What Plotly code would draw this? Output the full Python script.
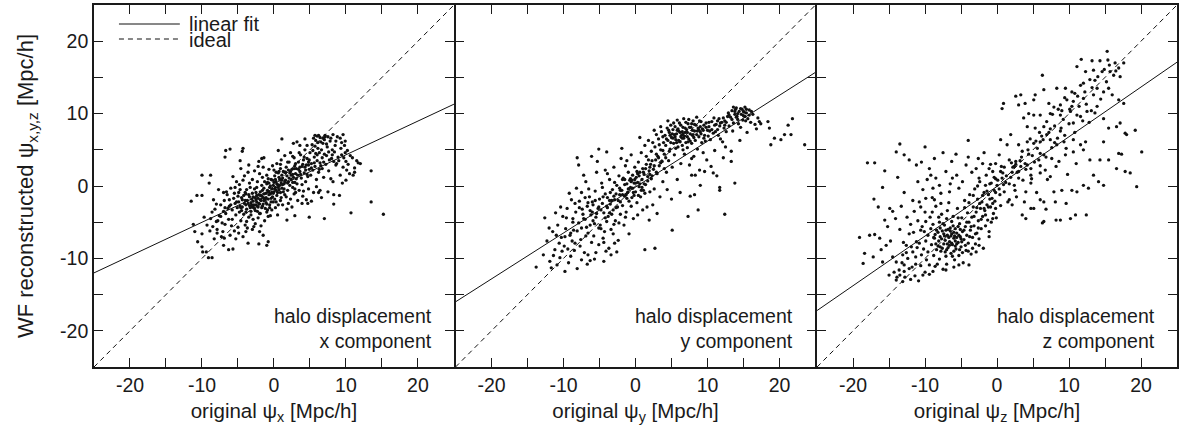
import plotly.graph_objects as go

# ---------------- data ----------------
panels = ["x", "y", "z"]
tick_vals = [-20, -15, -10, -5, 0, 5, 10, 15, 20]
tick_text = ["-20", "", "-10", "", "0", "", "10", "", "20"]
axis_range = [-25, 25]

# linear fit lines (slope, intercept) per panel
fit_slope = [0.466, 0.634, 0.686]
fit_intercept = [-0.35, -0.15, -0.05]
ideal_x = [-25, 25]

# halo displacement: (original, WF reconstructed) -- x component
halo_x = [
    (13.5, 2.1), (13.5, -2.2), (15.2, -3.9), (10.7, -3.7), (7.0, -4.5), (4.9, -4.3), (2.9, -4.1), (1.8, -4.7),
    (11.7, 3.2), (11.0, 1.5), (11.2, 1.9), (10.0, 0.8), (8.3, -1.2), (6.4, -0.6), (6.2, -0.9), (4.7, -2.4),
    (3.9, -2.4), (0.5, -4.0), (-0.8, -7.7), (-1.0, -8.2), (-2.1, -8.0), (-3.6, -7.9), (-5.7, -8.7), (-6.3, -8.8),
    (-7.0, -8.2), (-8.6, -9.9), (-9.1, -9.9), (-9.4, -9.1), (-9.9, -9.1), (-10.0, -8.4), (-10.6, -7.7), (-11.0, -6.3),
    (-11.2, -5.3), (-10.0, -6.6), (-8.3, -7.3), (-7.9, -6.5), (-11.5, -2.1), (-10.7, -1.3), (-10.0, -1.3), (-10.0, 1.5),
    (-8.8, 1.5), (-9.0, 0.4), (-6.8, 4.0), (-6.1, 5.1), (-6.7, 4.9), (-4.3, 5.2), (-4.4, 4.8), (-4.7, 3.5),
    (-3.5, 2.9), (-1.7, 3.8), (-1.4, 3.9), (-2.1, 3.4), (0.6, 4.9), (1.1, 6.5), (2.7, 5.9), (3.2, 6.1),
    (4.3, 6.5), (5.7, 7.0), (6.2, 7.0), (7.1, 7.0), (8.2, 7.1), (9.6, 7.1), (9.9, 6.2), (9.4, 6.0),
    (-8.8, -4.5), (-8.5, -5.6), (-8.2, -3.2), (-7.9, -6.0), (-7.6, -4.1), (-7.4, -2.6), (-7.2, -5.1), (-7.0, -3.5),
    (-8.4, -1.9), (-7.7, -0.5), (-8.9, -6.2), (-7.3, -7.0), (-7.1, -6.3), (-8.0, -2.5), (-7.8, -4.8),
    (-6.9, -2.0), (-6.7, -3.8), (-6.5, -1.2), (-6.3, -4.6), (-6.2, -2.8), (-6.0, -0.3), (-5.9, -5.5), (-5.8, -3.3),
    (-5.6, -1.7), (-5.5, -6.2), (-5.4, -2.4), (-5.3, -4.0), (-5.2, 0.6), (-5.1, -3.0), (-6.8, -5.3), (-6.6, -0.8),
    (-6.1, -6.8), (-5.7, 1.3), (-6.4, -3.1), (-5.0, -1.4), (-6.9, -7.2), (-5.3, -7.3),
    (-4.9, -2.2), (-4.8, -3.6), (-4.7, -0.5), (-4.6, -4.8), (-4.5, -1.6), (-4.4, -2.9), (-4.3, 0.8), (-4.2, -3.9),
    (-4.1, -2.4), (-4.0, -5.4), (-3.9, -1.1), (-3.8, -3.2), (-3.7, -2.0), (-3.6, 1.9), (-3.5, -4.3), (-3.4, -2.7),
    (-3.3, -0.2), (-3.2, -3.5), (-3.1, -1.8), (-3.0, -6.0), (-4.9, -6.5), (-4.3, -7.0), (-3.8, -4.9), (-4.6, 2.4),
    (-3.5, -1.2), (-3.2, -2.3), (-4.0, -0.9), (-3.9, -2.6), (-4.4, -1.9), (-3.3, -3.0), (-4.8, 0.2), (-3.7, -5.8),
    (-3.0, -2.9), (-4.1, 1.4),
    (-2.9, -1.5), (-2.8, -2.6), (-2.7, -0.4), (-2.6, -3.4), (-2.5, -1.9), (-2.4, -2.2), (-2.3, 0.6), (-2.2, -2.9),
    (-2.1, -1.2), (-2.0, -3.8), (-1.9, -0.8), (-1.8, -2.0), (-1.7, -1.4), (-1.6, 1.2), (-1.5, -2.5), (-1.4, -0.3),
    (-1.3, -1.7), (-1.2, -3.1), (-1.1, -1.0), (-1.0, 0.3), (-2.9, -4.6), (-2.6, -5.2), (-2.2, -4.4), (-1.8, -5.5),
    (-1.3, -4.8), (-2.7, 2.1), (-2.0, 1.7), (-1.5, 2.6), (-2.8, -3.0), (-2.4, -1.3), (-2.1, -2.4), (-1.9, -1.9),
    (-1.6, -2.8), (-1.2, -1.9), (-2.5, -0.9), (-1.4, -1.1), (-2.3, -3.5), (-1.1, -2.3), (-1.7, 0.1), (-2.6, -1.6),
    (-1.0, -3.6), (-2.0, -6.3), (-1.5, -6.8),
    (-0.9, -0.6), (-0.8, -1.8), (-0.7, 0.4), (-0.6, -2.6), (-0.5, -1.1), (-0.4, 0.9), (-0.3, -0.4), (-0.2, -1.5),
    (-0.1, 0.1), (0.0, -0.8), (0.1, 1.4), (0.2, -0.2), (0.3, 0.6), (0.4, -1.3), (0.5, 0.2), (0.6, 1.8),
    (0.7, -0.5), (0.8, 0.9), (0.9, -2.0), (1.0, 0.4), (-0.9, -3.3), (-0.5, -4.1), (0.2, -3.0), (0.6, -2.6),
    (-0.7, 2.3), (-0.2, 2.8), (0.4, 3.1), (0.9, 2.4), (-0.6, -0.2), (-0.3, -0.9), (0.1, -0.4), (0.5, -0.9),
    (0.8, 0.1), (-0.8, 1.0), (0.3, 1.9), (-0.1, -2.2), (0.7, 1.2), (0.0, 0.5), (-0.4, -1.7), (0.9, 0.8),
    (1.1, -0.3), (1.2, 1.1), (1.3, 2.0), (1.4, 0.3), (1.5, -1.2), (1.6, 0.8), (1.7, 2.6), (1.8, 1.4),
    (1.9, -0.6), (2.0, 0.6), (2.1, 3.3), (2.2, 1.8), (2.3, -1.8), (2.4, 0.9), (2.5, 2.3), (2.6, -0.2),
    (2.7, 1.2), (2.8, 3.9), (2.9, 0.5), (3.0, 1.7), (1.2, -2.6), (1.8, -3.2), (2.5, -2.9), (1.5, 4.2),
    (2.3, 4.6), (1.0, 3.6), (2.9, 2.8), (1.6, 1.9), (2.2, 0.1), (1.4, -0.4), (2.6, 1.6), (2.0, 2.2),
    (1.1, 0.8), (2.8, -1.1),
    (3.1, 2.4), (3.2, 0.3), (3.3, 1.5), (3.4, 3.3), (3.5, -0.6), (3.6, 2.0), (3.7, 4.3), (3.8, 1.1),
    (3.9, 2.7), (4.0, -1.4), (4.1, 3.6), (4.2, 1.8), (4.3, 5.0), (4.4, 0.6), (4.5, 2.9), (4.6, 3.8),
    (4.7, 1.3), (4.8, -0.4), (4.9, 2.3), (5.0, 4.6), (3.3, -2.0), (4.5, -1.9), (3.6, 5.6), (4.2, 4.0),
    (3.0, 3.1), (4.8, 3.3), (3.9, 0.2), (4.4, 2.2),
    (5.1, 1.5), (5.2, 3.1), (5.3, 5.7), (5.4, 2.2), (5.5, -0.9), (5.6, 4.0), (5.7, 2.7), (5.8, 6.3),
    (5.9, 0.9), (6.0, 3.5), (6.1, 5.2), (6.2, 1.9), (6.3, 4.6), (6.4, 6.7), (6.5, 2.8), (6.6, -1.6),
    (6.7, 3.9), (6.8, 5.9), (6.9, 1.2), (7.0, 4.4), (5.2, -2.1), (5.9, -0.1), (6.4, 3.2), (6.1, 6.0),
    (5.5, 6.6), (6.7, 2.4), (7.0, 6.4), (5.4, 4.9),
    (7.2, 3.0), (7.4, 5.4), (7.6, 2.1), (7.8, 6.2), (8.0, 3.8), (8.2, 0.6), (8.4, 4.7), (8.6, 2.9),
    (8.8, 6.8), (9.0, 3.5), (9.2, 1.5), (9.4, 4.3), (9.6, 2.6), (9.8, 5.6), (10.0, 3.4), (7.5, -0.8),
    (8.3, -2.5), (9.1, -1.3), (7.9, 1.0), (8.7, 3.1), (9.5, 0.4), (7.3, 4.2), (8.1, 5.0), (9.9, 4.6),
    (10.3, 3.0), (10.6, 4.2), (10.9, 3.9), (11.2, 2.5), (10.5, 1.7), (10.1, 2.2),
    (-5.5, -1.0), (-5.2, -2.2), (-4.9, -0.9), (-4.7, -2.8), (-4.5, -3.4), (-4.2, -1.3), (-4.0, -2.0), (-3.8, -0.5),
    (-3.6, -2.4), (-3.4, -1.5), (-3.2, -4.0), (-3.0, -1.0), (-2.9, -2.1), (-2.7, -3.1), (-2.5, -2.6), (-2.4, -0.2),
    (-2.2, -1.7), (-2.0, -2.5), (-1.9, -1.3), (-1.7, -3.0), (-1.6, -0.6), (-1.4, -2.0), (-1.3, 0.6), (-1.1, -1.6),
    (-1.0, -2.5), (-0.9, 0.5), (-0.7, -1.2), (-0.6, -3.0), (-0.5, 0.0), (-0.4, -2.2), (-0.2, 0.8), (-0.1, -1.0),
    (0.1, -1.8), (0.2, 0.9), (0.4, 0.3), (0.6, -0.2), (0.7, 2.0), (0.9, -0.9), (1.1, 1.5), (1.3, -0.8),
    (1.5, 0.6), (1.7, -1.5), (1.9, 0.4), (2.1, 1.1), (2.3, 2.0), (2.6, 0.5), (2.8, 2.4), (3.1, 1.0),
    (3.4, 2.3), (3.7, 1.6), (4.0, 3.0), (4.3, 2.6), (4.6, 1.6), (4.9, 3.6), (5.2, 2.5), (5.6, 3.2),
    (6.0, 4.3), (6.3, 2.3), (6.6, 5.0), (6.9, 3.3), (7.3, 5.8), (7.7, 3.6), (8.1, 4.3), (8.5, 5.6),
    (8.9, 4.0), (9.3, 5.2), (5.7, 5.5), (6.5, 6.1), (7.1, 6.8), (7.9, 6.6), (8.6, 6.2), (9.2, 6.6),
    (6.0, 6.9), (6.8, 6.6), (7.5, 6.8), (-6.2, -1.9), (-6.8, -3.0), (-7.4, -4.2), (-8.0, -4.9), (-8.6, -3.6),
    (-9.3, -5.4), (-9.7, -4.3), (-7.0, -0.9), (-5.8, -4.6), (-5.0, -5.7), (-3.9, -6.3), (-2.8, -5.6), (-0.8, -4.2),
    (-0.3, -3.3), (0.3, -2.2), (1.0, -1.6), (2.0, -2.4), (3.0, -0.9), (4.1, -0.7), (-3.0, 0.9), (-2.2, 2.7),
    (-1.0, 1.5), (0.0, 2.2), (0.9, 3.0), (1.9, 3.3), (2.6, 4.1), (3.5, 4.6), (4.6, 5.6), (-4.6, -3.0),
    (-3.9, -3.6), (-3.1, -2.6), (-2.3, -2.8), (-1.5, -1.6), (-0.7, -0.8), (0.3, -0.6), (1.2, 0.2), (2.4, 1.5),
    (3.6, 2.6), (4.8, 2.9), (5.8, 4.5), (-6.0, -2.6), (-5.4, -0.2), (-3.4, 0.4), (-1.9, -3.8), (1.5, 1.9),
    (2.9, -0.4), (7.6, 4.7), (8.3, 3.4), (9.7, 3.9), (10.2, 4.9), (11.5, 3.5), (12.0, 3.1),
]

# y component
halo_y = [
    (21.8, 9.3), (21.2, 8.4), (20.7, 7.1), (20.2, 6.4), (19.3, 6.6), (18.8, 5.7), (18.6, 8.0), (23.5, 5.7),
    (17.2, 8.9), (18.4, 8.9), (21.6, 7.1), (-12.6, -4.4), (-13.8, -11.2), (-8.1, 3.9), (-7.9, 2.9), (-6.1, 4.1),
    (-5.1, 5.1), (-4.0, 4.7), (12.4, -3.9), (8.7, -3.3), (7.3, -4.2), (5.1, -6.1), (2.7, -8.6), (1.3, -8.8),
    (13.8, 0.4), (11.7, -0.6), (11.7, -0.2), (8.2, -1.2), (7.6, -1.4), (13.3, 3.4), (9.6, 2.0), (10.8, 1.8),
    (7.8, 1.5),
    (-12.8, -9.5), (-12.3, -7.6), (-11.9, -10.4), (-11.5, -6.3), (-11.2, -8.8), (-10.8, -5.4), (-10.5, -9.9),
    (-10.3, -7.1), (-10.1, -4.2), (-11.7, -11.3), (-12.0, -5.8), (-10.9, -10.9), (-10.4, -2.9), (-11.1, -3.7),
    (-9.9, -8.3), (-9.7, -5.9), (-9.5, -3.1), (-9.3, -10.6), (-9.1, -6.8), (-8.9, -1.9), (-8.7, -4.5), (-8.5, -8.9),
    (-8.3, -3.6), (-8.1, -11.4), (-9.8, -11.8), (-9.2, -1.0), (-8.6, -6.1), (-8.2, -0.3), (-9.6, -4.4), (-8.8, -7.6),
    (-8.4, -2.4), (-9.0, -9.7),
    (-7.9, -5.1), (-7.8, -2.1), (-7.6, -7.4), (-7.5, -0.9), (-7.3, -3.9), (-7.1, -9.2), (-7.0, -4.6), (-6.9, 0.6),
    (-6.7, -2.8), (-6.6, -6.5), (-6.4, -1.5), (-6.3, -10.3), (-6.2, -4.0), (-6.0, -2.2), (-7.7, -8.3), (-7.2, 1.5),
    (-6.8, -5.7), (-6.5, -0.4), (-6.1, -7.8), (-7.4, -3.2), (-6.3, -3.4), (-7.0, -1.6), (-6.6, -9.5),
    (-5.9, -2.6), (-5.8, -6.9), (-5.6, -0.7), (-5.5, -4.3), (-5.4, 1.9), (-5.2, -3.1), (-5.1, -8.1), (-5.0, -1.8),
    (-4.9, -5.4), (-4.7, 0.4), (-4.6, -2.4), (-4.5, -7.2), (-4.4, -3.7), (-4.2, -1.1), (-4.1, -9.0), (-4.0, -4.9),
    (-5.7, -10.1), (-5.3, 3.4), (-4.8, -3.3), (-4.3, -6.3), (-5.6, -2.0), (-4.2, 2.2), (-5.9, -4.8), (-4.6, -0.2),
    (-4.0, -2.8), (-5.1, -5.8), (-4.4, -10.4),
    (-3.9, -1.6), (-3.8, -4.2), (-3.6, 0.9), (-3.5, -2.5), (-3.4, -6.0), (-3.2, -0.5), (-3.1, -3.3), (-3.0, 2.6),
    (-2.9, -1.9), (-2.8, -4.8), (-2.6, 0.1), (-2.5, -2.9), (-2.4, -7.5), (-2.3, 1.4), (-2.2, -1.2), (-2.1, -3.9),
    (-2.0, 3.8), (-3.7, -8.6), (-3.3, -2.0), (-2.7, -1.1), (-3.0, -5.3), (-2.2, -0.3), (-3.9, 1.7), (-2.6, -9.1),
    (-3.5, -0.9), (-2.9, 0.5), (-2.1, -2.2), (-3.6, -3.7),
    (-1.9, -0.6), (-1.8, -2.7), (-1.7, 1.1), (-1.5, -1.4), (-1.4, 2.8), (-1.3, -3.6), (-1.2, 0.3), (-1.1, -0.9),
    (-1.0, 1.9), (-0.9, -2.1), (-0.8, 0.8), (-0.7, -0.2), (-0.6, 4.3), (-0.5, -1.6), (-0.4, 1.5), (-0.3, -4.5),
    (-0.2, 0.4), (-0.1, 2.6), (0.0, -0.8), (-1.6, -5.4), (-0.9, -6.6), (-1.9, 5.2), (-1.2, 3.5), (-0.4, -0.3),
    (-1.5, 0.2), (-0.7, 1.0), (-0.2, -1.3), (-1.0, -0.4), (-0.6, 0.6), (-1.8, 0.9), (-1.3, -1.2), (-0.1, 0.9),
    (0.1, 1.2), (0.2, -2.3), (0.3, 0.5), (0.4, 3.3), (0.5, -0.1), (0.6, 1.9), (0.7, -1.5), (0.8, 4.6),
    (0.9, 0.9), (1.0, 2.4), (1.1, -0.6), (1.2, 1.6), (1.3, 5.6), (1.4, 0.2), (1.5, 3.0), (1.6, -2.9),
    (1.7, 1.3), (1.8, 6.3), (1.9, 2.1), (2.0, -0.8), (0.3, -4.0), (1.0, -3.3), (0.6, 6.7), (1.5, 4.1),
    (0.2, 2.0), (1.2, 0.3), (1.8, 3.6), (0.8, -0.6), (0.5, 1.4), (1.9, -4.7),
    (2.1, 3.0), (2.2, 4.8), (2.3, 1.4), (2.4, 6.0), (2.5, 2.3), (2.6, -0.4), (2.7, 5.4), (2.8, 3.6),
    (2.9, 7.1), (3.0, 1.7), (3.1, 4.1), (3.2, 6.5), (3.3, 2.8), (3.4, -1.5), (3.5, 5.0), (3.6, 7.5),
    (3.7, 3.4), (3.8, 0.6), (3.9, 6.0), (4.0, 4.4), (2.4, -2.6), (3.0, -3.8), (2.6, 7.7), (3.5, 8.2),
    (2.2, 1.0), (3.3, 5.7), (4.0, 2.4), (2.9, 4.4), (3.8, 6.8), (2.0, 2.6),
    (4.1, 7.0), (4.2, 5.6), (4.3, 1.9), (4.4, 8.0), (4.5, 6.3), (4.6, 3.5), (4.7, 7.4), (4.8, 5.1),
    (4.9, 8.4), (5.0, 6.7), (5.1, 2.6), (5.2, 7.8), (5.3, 5.9), (5.4, 4.3), (5.5, 8.2), (5.6, 6.4),
    (5.7, 7.2), (5.8, 0.9), (5.9, 5.4), (6.0, 7.6), (6.1, 8.7), (6.2, 6.1), (6.3, 3.1), (6.4, 7.0),
    (6.5, 5.6), (6.6, 8.1), (6.7, 6.6), (6.8, 4.4), (6.9, 7.4), (7.0, 6.0), (4.4, -0.5), (5.0, -1.8),
    (6.2, -0.9), (4.5, 9.0), (5.8, 9.1), (6.7, 9.3), (4.9, 6.0), (5.4, 7.1), (6.0, 6.3), (6.5, 7.5),
    (4.7, 4.8), (5.6, 5.2), (6.3, 6.8), (5.2, 6.6), (6.8, 6.9), (4.3, 6.5), (5.9, 7.9), (6.6, 5.0),
    (7.1, 7.8), (7.2, 5.3), (7.3, 8.6), (7.4, 6.5), (7.5, 2.9), (7.6, 7.2), (7.7, 8.1), (7.8, 5.9),
    (7.9, 7.0), (8.0, 9.0), (8.1, 4.1), (8.2, 7.6), (8.3, 6.3), (8.4, 8.4), (8.5, 7.1), (8.6, 5.1),
    (8.7, 8.0), (8.8, 6.8), (8.9, 2.2), (9.0, 7.5), (9.1, 8.9), (9.2, 6.0), (9.3, 7.9), (9.4, 4.6),
    (9.5, 8.4), (9.6, 7.0), (9.7, 6.2), (9.8, 8.7), (9.9, 3.6), (10.0, 7.7), (7.4, 9.2), (8.5, 9.5),
    (7.8, 3.8), (8.3, 1.5), (9.0, 0.1), (7.2, 6.8), (8.0, 7.1), (8.8, 7.8), (9.5, 6.6), (7.6, 6.2),
    (10.2, 8.2), (10.4, 6.4), (10.6, 8.9), (10.8, 7.3), (11.0, 4.9), (11.2, 8.5), (11.4, 7.8), (11.6, 9.3),
    (11.8, 6.5), (12.0, 8.8), (12.2, 3.9), (12.4, 9.0), (12.6, 7.5), (12.8, 9.6), (13.0, 8.3), (10.5, 2.7),
    (11.3, 1.4), (12.5, 5.4), (10.9, 9.4), (11.7, 8.3), (12.3, 8.0), (12.9, 10.1), (10.3, 7.6), (11.5, 7.0),
    (12.1, 6.1),
    (13.2, 9.5), (13.4, 10.4), (13.6, 8.7), (13.8, 9.9), (14.0, 10.8), (14.2, 9.2), (14.4, 10.3), (14.6, 8.1),
    (14.8, 10.6), (15.0, 9.7), (15.2, 10.9), (15.4, 10.1), (15.6, 9.3), (15.8, 10.5), (16.0, 8.8), (16.3, 9.9),
    (16.6, 8.5), (17.0, 9.4), (13.5, 7.6), (14.5, 6.3), (15.5, 7.4), (14.1, 9.6), (15.1, 10.2), (14.7, 9.9),
    (13.9, 10.6), (15.3, 9.0), (16.1, 10.3), (14.3, 8.6), (13.3, 4.8), (16.8, 7.9), (17.4, 8.6),
    (4.6, 7.7), (5.1, 7.2), (5.5, 6.8), (5.8, 7.7), (6.2, 7.4), (6.5, 6.6), (6.9, 8.0), (7.2, 7.4),
    (7.5, 8.1), (7.9, 7.7), (8.2, 8.5), (8.6, 7.6), (9.0, 8.2), (9.4, 7.7), (9.8, 8.1), (10.2, 8.8),
    (10.6, 7.8), (11.0, 8.4), (11.4, 9.0), (11.8, 8.7), (12.2, 9.4), (12.6, 8.8), (13.0, 9.8), (13.4, 9.2),
    (13.8, 10.3), (14.2, 10.0), (14.6, 10.7), (15.0, 10.3), (15.4, 10.6), (15.8, 9.8), (14.0, 9.5), (14.9, 9.1),
    (13.6, 10.9), (15.2, 9.6), (5.3, 8.7), (6.3, 8.4), (7.0, 8.8), (7.8, 8.6), (8.9, 9.0), (4.8, 7.0),
    (5.7, 6.0), (6.6, 7.2), (7.3, 6.1), (8.1, 6.7), (9.1, 7.2), (10.1, 6.9), (11.1, 7.5), (12.4, 8.4),
    (-0.5, 0.8), (-0.3, -0.9), (0.0, 0.4), (0.3, 1.7), (0.6, 0.3), (0.9, -0.2), (1.1, 1.9), (1.4, 2.4),
    (1.7, 0.7), (2.0, 1.6), (2.3, 3.5), (2.6, 2.8), (2.9, 1.9), (3.2, 3.9), (3.5, 3.2), (3.8, 4.9),
    (4.2, 3.9), (-0.9, -0.4), (-1.2, -1.7), (-1.5, 0.9), (-1.8, -1.2), (-2.1, -0.6), (-2.4, -2.0), (-2.7, -3.0),
    (-3.0, -1.4), (-3.3, -3.9), (-3.6, -2.0), (-3.9, -3.0), (-4.2, -4.4), (-4.5, -1.5), (-4.8, -5.9), (-5.1, -2.9),
    (-5.4, -3.8), (-5.7, -5.2), (-6.0, -3.6), (-6.3, -5.4), (-6.6, -2.3), (-6.9, -6.9), (-7.2, -4.5), (-7.5, -5.8),
    (-7.8, -3.0), (-8.1, -6.2), (-8.4, -7.9), (-8.7, -5.0), (-9.0, -6.5), (-9.4, -8.7), (-9.8, -7.0), (-10.2, -9.0),
    (-10.6, -7.9), (-11.0, -6.8), (-11.4, -9.6), (-3.1, -6.6), (-2.3, -5.1), (-1.4, -4.3), (-0.6, -2.8), (0.4, -1.3),
    (1.3, -1.0), (-4.4, -7.8), (-5.5, -9.2), (-6.7, -10.8), (-7.5, -10.2), (-3.4, -9.5), (-2.9, -7.9),
]

# z component
halo_z = [
    (-4.0, 6.3), (-10.0, 5.4), (-13.5, 5.8), (-14.0, 4.7), (-12.9, 4.3), (-12.2, 3.6), (-18.0, 3.2), (-17.0, 3.2),
    (-15.6, 2.1), (-5.7, 4.4), (-6.3, 3.4), (-7.1, 2.0), (-9.4, 2.4), (-9.2, 1.5), (-15.9, -0.2), (-17.1, -1.8),
    (-16.5, -2.9), (-14.9, -3.1), (-14.5, -3.5), (-15.6, -4.7), (-15.2, -5.6), (-17.7, -6.8), (-19.1, -7.1),
    (-17.0, -6.7), (-18.4, -9.3), (-18.6, -10.7), (-17.2, -9.8), (-16.1, -8.8), (-15.9, -10.5), (-15.0, -12.3),
    (-14.0, -13.0), (-13.5, -12.3), (-12.9, -11.8), (-12.2, -11.4), (-13.1, -9.5), (-11.7, -9.1), (-12.6, -8.2),
    (-11.2, -7.7), (-10.6, -6.1), (-9.9, -4.9), (-11.5, -3.5), (-10.8, -2.2), (-9.9, -1.7), (-8.9, -0.3),
    (-8.0, 0.1), (-8.5, 1.1), (-6.6, -0.8), (-6.2, 1.1), (-5.3, -0.3), (-4.3, 2.9), (-2.9, 2.4), (-2.0, 3.1),
    (-1.1, 2.4), (-0.2, 3.1), (-2.5, 1.1), (-1.6, 0.1), (-9.4, -10.9), (-10.3, -12.3), (-8.9, -11.8),
    (-7.1, -11.6), (-5.3, -10.9), (-3.9, -10.9), (-2.9, -9.1), (-2.5, -8.2), (-1.1, -6.3), (-0.6, -4.5),
    (-0.2, -3.1),
    (15.3, 18.6), (16.4, 17.0), (16.9, 16.3), (16.2, 15.3), (17.1, 15.1), (17.6, 17.0), (11.7, 17.5), (13.2, 17.3),
    (14.3, 17.3), (11.1, 16.5), (12.3, 15.8), (13.4, 16.0), (14.6, 15.8), (15.7, 15.8), (6.3, 15.3), (9.5, 13.5),
    (10.4, 13.0), (11.6, 13.9), (12.9, 14.7), (13.9, 13.5), (15.5, 13.5), (6.5, 13.3), (8.3, 13.5), (5.3, 12.6),
    (5.1, 11.9), (3.3, 12.6), (2.6, 12.4), (0.9, 11.4), (0.7, 10.7), (3.0, 11.2), (3.9, 11.4), (7.2, 11.4),
    (8.8, 11.2), (9.7, 11.9), (10.6, 11.7), (12.0, 12.1), (13.4, 12.6), (14.8, 13.0), (16.9, 11.9), (17.6, 11.4),
    (13.9, 11.0), (12.5, 10.3), (11.1, 9.8), (10.2, 10.3), (8.8, 9.8), (7.4, 10.0), (6.0, 9.8), (5.1, 9.8),
    (4.4, 10.0), (3.7, 9.4), (4.2, 8.2), (5.3, 8.0), (6.5, 8.2), (6.9, 7.1), (7.4, 6.4), (6.0, 6.1),
    (5.1, 5.9), (4.2, 6.1), (3.0, 5.7), (1.4, 5.7), (1.9, 7.1), (0.5, 6.4), (0.3, 4.3), (1.7, 3.6),
    (2.6, 3.4), (3.3, 2.7), (4.2, 2.9), (4.7, 2.4), (6.0, 4.5), (6.5, 4.3), (5.8, 3.6), (7.6, 3.8),
    (8.6, 3.4), (9.5, 4.3), (10.6, 4.7), (11.6, 5.7), (12.0, 5.0), (12.3, 6.1), (10.6, 6.4), (9.3, 6.1),
    (8.3, 5.7), (12.9, 3.6), (14.3, 3.6), (14.8, 6.1), (15.5, 8.0), (16.6, 8.2), (17.1, 8.7), (17.8, 7.3),
    (18.0, 7.1), (19.2, 7.7), (20.1, 4.7), (19.4, -0.1), (18.5, 1.8), (17.8, 2.0), (16.9, 4.5), (17.3, 4.4),
    (16.6, 2.4), (15.5, 3.6), (14.8, 0.1), (14.1, 0.6), (13.4, 1.5), (12.7, -0.3), (12.0, 0.1), (11.1, -0.8),
    (10.4, -0.6), (9.0, -0.6), (8.1, -2.2), (6.5, -2.2), (6.0, -1.9), (5.1, -3.1), (4.7, -3.1), (6.5, -4.9),
    (8.8, -4.7), (10.2, -4.5), (10.9, -4.0), (4.0, -4.5), (3.5, -4.0), (2.1, -2.6), (1.7, -1.9), (1.0, -0.8),
    (2.4, 0.1), (3.0, 1.1), (4.7, 1.5), (6.0, 1.8), (6.7, 2.2), (7.4, 1.3), (7.9, -0.8), (4.7, 0.4),
    (4.0, -0.8), (2.4, 2.7), (0.7, 1.1), (0.5, 2.0), (12.4, -4.0), (8.2, -4.7), (6.3, -5.1),
    (-11.6, -6.4), (-11.3, -9.8), (-11.0, -4.8), (-10.8, -7.9), (-10.6, -11.0), (-10.4, -5.6), (-10.2, -8.7),
    (-10.0, -3.6), (-9.8, -10.2), (-9.6, -6.8), (-9.4, -12.2), (-9.3, -4.3), (-9.1, -8.1), (-8.9, -5.3),
    (-8.8, -9.6), (-8.7, -7.2), (-8.5, -2.8), (-8.4, -6.1), (-8.3, -10.8), (-8.2, -8.3), (-8.0, -5.0),
    (-7.9, -7.0), (-7.8, -9.0), (-7.7, -3.9), (-7.6, -6.2), (-7.5, -11.5), (-7.4, -8.0), (-7.3, -5.4),
    (-7.2, -7.5), (-7.1, -9.7), (-7.0, -4.5), (-6.9, -6.8), (-6.8, -8.5), (-6.7, -2.3), (-6.6, -7.7),
    (-6.5, -5.8), (-6.4, -9.3), (-6.3, -6.6), (-6.2, -8.1), (-6.1, -4.2), (-6.0, -7.2), (-5.9, -10.2),
    (-5.8, -5.9), (-5.7, -8.7), (-5.6, -6.5), (-5.5, -3.1), (-5.4, -7.8), (-5.3, -9.6), (-5.2, -5.2),
    (-5.1, -7.0), (-5.0, -8.4), (-4.9, -4.4), (-4.8, -6.3), (-4.7, -10.6), (-4.6, -7.4), (-4.5, -2.0),
    (-4.4, -5.6), (-4.3, -8.9), (-4.2, -6.8), (-4.1, -3.7), (-4.0, -7.9), (-3.9, -5.0), (-3.8, -1.2),
    (-3.7, -6.1), (-3.6, -9.4), (-3.5, -4.3), (-3.4, -7.1), (-3.3, -2.9), (-3.2, -5.5), (-3.1, -0.4),
    (-3.0, -8.0), (-2.9, -3.6), (-2.8, -6.5), (-2.7, -1.8), (-2.6, -4.8), (-2.5, -7.3), (-2.4, 0.6),
    (-2.3, -3.1), (-2.2, -5.9), (-2.1, -2.2), (-2.0, -4.2), (-1.9, -8.6), (-1.8, -0.9), (-1.7, -3.4),
    (-1.6, -5.5), (-1.5, 1.5), (-1.4, -2.6), (-1.3, -4.7), (-1.2, -1.2), (-1.1, -7.0), (-1.0, 0.3),
    (-0.9, -2.9), (-0.8, -5.0), (-0.7, -1.7), (-0.6, 2.0), (-0.5, -3.8), (-0.4, -0.6), (-0.3, -2.1),
    (-0.2, 1.0), (-0.1, -4.4), (0.0, 0.1),
    (-8.6, -6.7), (-8.1, -7.6), (-7.6, -8.6), (-7.1, -6.1), (-6.7, -7.1), (-6.3, -7.9), (-5.9, -6.9),
    (-5.6, -8.0), (-5.3, -6.8), (-7.4, -6.6), (-6.9, -8.0), (-6.1, -5.5), (-7.9, -5.8), (-5.8, -7.6),
    (-6.5, -6.2), (-7.2, -9.1), (-5.1, -6.0), (-8.4, -8.8), (-6.0, -9.0), (-4.9, -7.7),
    (-13.2, -10.6), (-12.8, -12.6), (-12.4, -10.0), (-12.0, -12.9), (-11.8, -11.2), (-13.6, -11.6),
    (-14.3, -11.9), (-13.9, -12.6), (-11.4, -12.4), (-10.9, -13.1), (-12.6, -9.2), (-13.0, -7.8),
    (-11.9, -8.4), (-14.5, -9.8), (-14.8, -7.6), (-15.4, -8.2), (-16.3, -7.2), (-13.5, -6.0), (-12.2, -6.6),
    (-14.1, -4.5), (-13.3, -2.8), (-12.5, -4.3), (-11.7, -2.0), (-12.9, -0.9), (-11.0, 0.6), (-10.3, -0.5),
    (-9.7, 0.9), (-13.8, 1.2), (-11.2, 2.9), (-10.5, 3.3), (-8.7, 3.8), (-7.5, 4.6), (-9.0, -1.6),
    (-7.8, -1.0), (-6.5, 0.3), (-5.6, 1.5), (-4.8, 0.6), (-4.0, 4.0), (-3.5, 1.9), (-2.6, 3.8),
    (-1.8, 4.6), (-0.9, 3.0),
    (0.4, -1.2), (0.8, 1.8), (1.2, 0.5), (1.5, -2.2), (1.9, 1.2), (2.2, 2.6), (2.5, -0.6), (2.8, 1.9),
    (3.2, 3.5), (3.6, 0.8), (4.0, 2.3), (4.4, 4.4), (4.8, 1.0), (5.2, 3.3), (5.6, 5.2), (6.0, 2.8),
    (6.4, 6.4), (6.8, 4.0), (7.2, 7.4), (7.6, 5.3), (8.0, 8.3), (8.4, 6.6), (8.8, 7.6), (9.2, 9.2),
    (9.6, 5.2), (10.0, 8.6), (10.4, 11.0), (10.8, 7.4), (11.2, 12.4), (11.6, 9.6), (12.0, 14.2), (12.4, 11.3),
    (12.8, 8.8), (13.2, 13.6), (13.6, 10.1), (14.0, 15.1), (14.4, 12.0), (14.8, 9.3), (15.2, 14.4),
    (15.6, 16.7), (16.0, 12.6), (5.9, 7.4), (6.9, 8.9), (7.7, 9.9), (8.5, 10.6), (9.4, 12.2), (3.5, 4.8),
    (4.6, 6.5), (2.0, 3.2), (1.0, 2.6), (0.5, -2.7), (7.0, 0.9), (8.2, 2.7), (9.8, 1.6), (11.0, 3.1),
    (5.5, -0.9), (3.8, -2.2), (6.2, 6.9), (7.4, 7.9), (8.9, 8.0), (10.1, 10.6), (11.4, 11.0),
    (-8.8, -7.1), (-8.5, -8.0), (-8.2, -6.4), (-7.9, -8.4), (-7.7, -7.3), (-7.5, -5.2), (-7.3, -6.9), (-7.0, -8.8),
    (-6.8, -6.0), (-6.6, -8.2), (-6.4, -6.9), (-6.2, -9.7), (-6.0, -6.4), (-5.8, -8.3), (-5.6, -7.1), (-5.4, -5.6),
    (-5.2, -8.8), (-5.0, -7.3), (-4.8, -9.2), (-4.6, -6.1), (-4.4, -8.2), (-4.2, -5.0), (-4.0, -9.0), (-3.8, -7.0),
    (-3.6, -5.6), (-3.4, -8.6), (-3.2, -4.2), (-3.0, -6.6), (-2.8, -3.0), (-2.6, -5.8), (-2.4, -2.4), (-2.2, -4.6),
    (-2.0, -1.3), (-1.8, -3.1), (-1.6, -4.0), (-1.4, -0.7), (-1.2, -2.9), (-1.0, -1.8), (-0.8, 0.4), (-0.6, -2.4),
    (-0.4, 1.2), (-0.2, -0.9), (0.1, 0.8), (0.3, -0.4), (0.6, 2.7), (0.9, 0.2), (1.3, 1.4), (1.7, 0.3),
    (2.1, 1.9), (2.6, 3.0), (3.0, 2.0), (3.4, 4.0), (3.9, 3.1), (4.3, 5.0), (4.9, 4.2), (5.4, 6.2),
    (-9.6, -9.1), (-9.2, -5.9), (-9.9, -7.6), (-10.5, -9.5), (-10.1, -6.3), (-11.1, -8.5), (-8.0, -10.1),
    (-7.0, -10.8), (-6.0, -11.2), (-8.6, -11.1), (-9.0, -3.6), (-8.1, -4.3), (-6.9, -3.4), (-6.3, -4.9),
    (-5.4, -4.4), (-4.5, -3.0), (-3.9, -2.3), (-3.3, -1.3), (-2.7, 0.0), (-7.8, -2.4), (-8.7, -1.9),
    (-10.6, -2.9), (-12.0, -5.3), (-14.0, -10.5), (-12.9, -10.9), (-11.3, -10.8), (-13.1, -13.2), (-10.0, -11.9),
    (7.9, 10.9), (9.0, 10.4), (10.8, 12.8), (12.2, 13.0), (13.6, 14.6), (14.9, 16.1), (16.5, 15.9), (15.4, 17.4),
    (8.0, 6.0), (9.4, 7.0), (10.6, 8.7), (11.9, 9.0), (13.1, 10.4), (2.7, -1.5), (6.8, -3.2), (9.6, -2.4),
]

halo_data = [halo_x, halo_y, halo_z]

# ---------------- figure ----------------
FONT = "Liberation Sans, Arial, Helvetica, sans-serif"
FS = 19.5
FS_XTITLE = 20.5
FS_YTITLE = 22
FS_LEGEND = 20
INK = "#1a1a1a"
LW = 1.6  # axis line width (px)

fig = go.Figure()

for i, comp in enumerate(panels):
    xa = "x" if i == 0 else f"x{i+1}"
    ya = "y" if i == 0 else f"y{i+1}"
    pts = halo_data[i]
    fig.add_trace(go.Scatter(
        x=[p[0] for p in pts], y=[p[1] for p in pts], mode="markers",
        marker=dict(size=3.3, color="#111111", line=dict(width=0)),
        xaxis=xa, yaxis=ya, showlegend=False, name="halos",
    ))
    fy = [fit_slope[i] * v + fit_intercept[i] for v in ideal_x]
    fig.add_trace(go.Scatter(
        x=ideal_x, y=fy, mode="lines", line=dict(color="#111111", width=1),
        xaxis=xa, yaxis=ya, showlegend=False, name="linear fit",
    ))
    fig.add_trace(go.Scatter(
        x=ideal_x, y=ideal_x, mode="lines", line=dict(color="#111111", width=1, dash="5px,4px"),
        xaxis=xa, yaxis=ya, showlegend=False, name="ideal",
    ))

common_axis = dict(
    range=axis_range, showgrid=False, zeroline=False, showline=True, linecolor=INK,
    linewidth=LW, mirror="ticks", ticks="inside", ticklen=9, tickwidth=1.3, tickcolor=INK,
    tickvals=tick_vals, ticktext=tick_text, tickfont=dict(family=FONT, size=FS, color=INK),
)

W, H = 1181, 432
ML, MR, MT, MB = 94, 2, 5, 65
PW = W - ML - MR
PH = H - MT - MB
gap = LW / PW  # so neighbouring frame lines fall on the same pixels
third = (1 - 2 * gap) / 3
domains = [[0, third], [third + gap, 2 * third + gap], [2 * third + 2 * gap, 1]]

layout = dict(
    width=W, height=H,
    margin=dict(l=ML, r=MR, t=MT, b=MB),
    plot_bgcolor="white", paper_bgcolor="white",
    font=dict(family=FONT, size=FS, color=INK),
    showlegend=False,
)
for i, comp in enumerate(panels):
    xk = "xaxis" if i == 0 else f"xaxis{i+1}"
    yk = "yaxis" if i == 0 else f"yaxis{i+1}"
    xa_ref = "x" if i == 0 else f"x{i+1}"
    ya_ref = "y" if i == 0 else f"y{i+1}"
    layout[xk] = dict(common_axis, domain=domains[i], anchor=ya_ref,
                      title=dict(text=f"original ψ<sub>{comp}</sub> [Mpc/h]", standoff=8,
                                 font=dict(family=FONT, size=FS_XTITLE, color=INK)))
    ydict = dict(common_axis, domain=[0, 1], anchor=xa_ref)
    if i == 0:
        ydict["title"] = dict(text="WF reconstructed ψ<sub>x,y,z</sub> [Mpc/h]", standoff=20,
                              font=dict(family=FONT, size=FS_YTITLE, color=INK))
    else:
        ydict["showticklabels"] = False
    layout[yk] = ydict

fig.update_layout(**layout)

# component labels
for i, comp in enumerate(panels):
    xa_ref = "x" if i == 0 else f"x{i+1}"
    ya_ref = "y" if i == 0 else f"y{i+1}"
    fig.add_annotation(
        text=f"halo displacement<br>{comp} component", xref=f"{xa_ref} domain", yref=ya_ref,
        x=1, y=-19.75, xanchor="right", yanchor="middle", xshift=-20, align="right",
        showarrow=False, font=dict(family=FONT, size=FS, color=INK),
    )

# legend (top-left of the first panel)
legend_items = [("linear fit", "solid"), ("ideal", "5px,4px")]
legend_line_px = [24, 39]
legend_text_px = [24, 40]
for (label, dash), ly, ty in zip(legend_items, legend_line_px, legend_text_px):
    fig.add_shape(type="line", xref="paper", yref="paper",
                  x0=(119 - ML) / PW, x1=(180 - ML) / PW,
                  y0=(H - MB - ly) / PH, y1=(H - MB - ly) / PH,
                  line=dict(color="#111111", width=1, dash=dash))
    fig.add_annotation(text=label, xref="paper", yref="paper", x=(187 - ML) / PW,
                       y=(H - MB - ty) / PH, xanchor="left", yanchor="middle", showarrow=False,
                       font=dict(family=FONT, size=FS_LEGEND, color=INK))

fig.write_html("out.html")
